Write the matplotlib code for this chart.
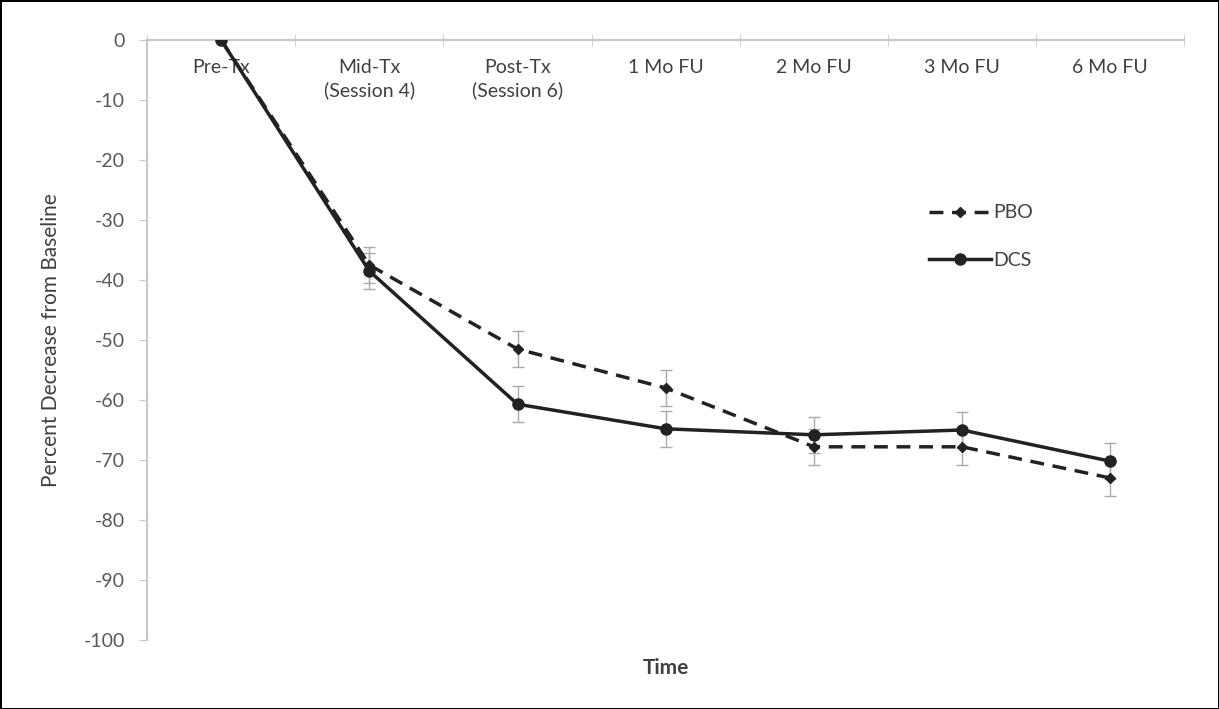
import numpy as np
import matplotlib.pyplot as plt

plt.rcParams['font.family'] = ['Lato', 'DejaVu Sans']
plt.rcParams['axes.unicode_minus'] = False

categories = ["Pre-Tx", "Mid-Tx\n(Session 4)", "Post-Tx\n(Session 6)", "1 Mo FU", "2 Mo FU", "3 Mo FU", "6 Mo FU"]
pbo = [0, -37.5, -51.5, -58.0, -67.8, -67.8, -73.0]
pbo_err = [0, 3.0, 3.0, 3.0, 3.0, 3.0, 3.0]
dcs = [0, -38.5, -60.7, -64.8, -65.8, -65.0, -70.2]
dcs_err = [0, 3.0, 3.0, 3.0, 3.0, 3.0, 3.0]

x = np.arange(1, len(categories) + 1)

fig = plt.figure(figsize=(12.19, 7.09), dpi=100, edgecolor="black", linewidth=2)
ax = fig.add_axes([0.1206, 0.0973, 0.851, 0.8463])

ax.errorbar(x, pbo, yerr=pbo_err, fmt="none", ecolor="#aaaaaa", elinewidth=1, capsize=4, zorder=1)
ax.errorbar(x, dcs, yerr=dcs_err, fmt="none", ecolor="#aaaaaa", elinewidth=1, capsize=4, zorder=1)
ax.plot(x, pbo, color="#222222", linestyle=(0, (4, 2.5)), linewidth=2.5, marker="D", markersize=5, label="PBO", zorder=3)
ax.plot(x, dcs, color="#222222", linewidth=2.5, marker="o", markersize=8, label="DCS", zorder=3)

ax.set_xlim(0.5, 7.5)
ax.set_ylim(-100, 0)
ax.set_yticks(np.arange(-100, 1, 10))

ax.spines["right"].set_visible(False)
ax.spines["top"].set_visible(False)
ax.spines["bottom"].set_position(("data", 0))
ax.spines["bottom"].set_color("#c8c8c8")
ax.spines["bottom"].set_linewidth(1.5)
ax.spines["left"].set_color("#c8c8c8")
ax.spines["left"].set_linewidth(1.5)

ax.set_xticks(x)
ax.set_xticklabels(categories, fontsize=14, color="#404040", linespacing=1.3)
ax.set_xticks(np.arange(0.5, 8, 1), minor=True)
ax.tick_params(axis="x", which="major", length=0, pad=14)
ax.tick_params(axis="x", which="minor", length=8, direction="inout", color="#c8c8c8")
ax.tick_params(axis="y", length=6, color="#c8c8c8", labelsize=14, labelcolor="#595959", pad=10)
for lab in ax.get_xticklabels():
    lab.set_verticalalignment("top")

ax.set_xlabel("Time", fontsize=15, color="#404040", fontweight="bold", labelpad=0)
ax.xaxis.set_label_coords(0.5, -0.03)
ax.set_ylabel("Percent Decrease from Baseline", fontsize=15, color="#404040", labelpad=16)

ax.legend(loc="upper left", bbox_to_anchor=(0.737, 0.755), frameon=False, fontsize=14,
          handlelength=3.2, handletextpad=0.1, labelspacing=1.55, labelcolor="#404040")

fig.savefig("out.png", dpi=100)
